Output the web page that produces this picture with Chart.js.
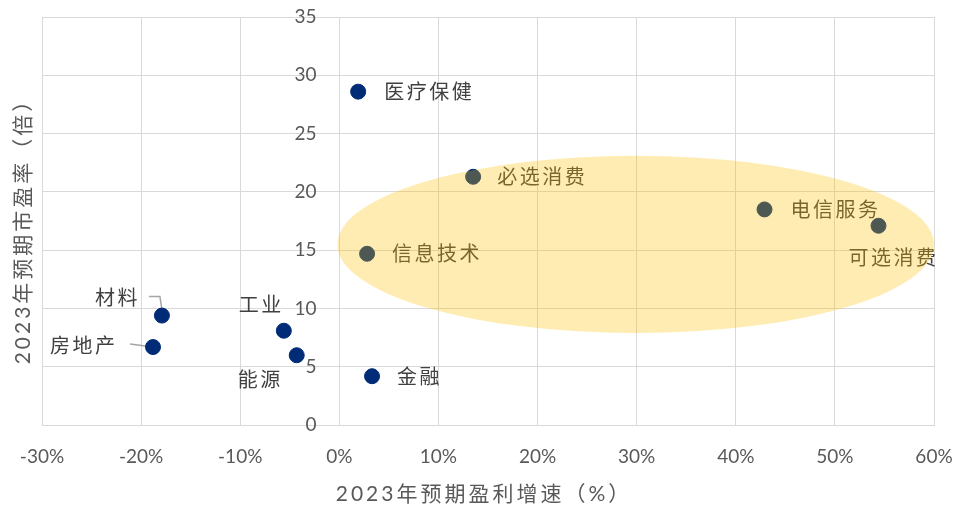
<!DOCTYPE html>
<html>
<head>
<meta charset="utf-8">
<script src="https://cdn.jsdelivr.net/npm/chart.js@4"></script>
<style>
  html, body { margin: 0; padding: 0; background: #fff; }
</style>
</head>
<body>
<canvas id="chart" width="955" height="510"></canvas>
<script>
// sectors with expected 2023 earnings growth (%) and forward P/E
const sectors = ["医疗保健", "必选消费", "电信服务", "可选消费", "信息技术", "材料", "房地产", "工业", "能源", "金融"];
const growth = [1.9, 13.5, 42.9, 54.4, 2.8, -17.9, -18.8, -5.6, -4.3, 3.3];
const pe = [28.6, 21.3, 18.5, 17.1, 14.7, 9.4, 6.7, 8.1, 6.0, 4.2];
const xTicks = [-30, -20, -10, 0, 10, 20, 30, 40, 50, 60];
const yTicks = [0, 5, 10, 15, 20, 25, 30, 35];
const xTitle = "2023年预期盈利增速（%）";
const yTitle = "2023年预期市盈率（倍）";
// highlighted zone (data units)
const zoneCenter = [29.9, 15.5];
const zoneRadius = [30.1, 7.6];

// where each label sits relative to its point (pixels)
const labelPos = {
  "医疗保健": { dx: 26, dy: 0 },
  "必选消费": { dx: 24, dy: 0 },
  "电信服务": { dx: 26, dy: 0 },
  "可选消费": { dx: -30, dy: 32 },
  "信息技术": { dx: 25, dy: 0 },
  "材料": { dx: -67, dy: -18, line: [[-13, -19], [-2, -19], [0, -6]] },
  "房地产": { dx: -103, dy: -2, line: [[-23, -3], [0, 0]] },
  "工业": { dx: -45, dy: -26 },
  "能源": { dx: -59, dy: 24 },
  "金融": { dx: 25, dy: 0 }
};

const points = growth.map((g, i) => ({ x: g, y: pe[i] }));

// let layout.padding alone decide the plot box
function noOverflow(s) {
  s.paddingLeft = 0; s.paddingRight = 0; s.paddingTop = 0; s.paddingBottom = 0;
}

const extras = {
  id: "extras",
  beforeDatasetsDraw(chart) {
    // leader lines under the points
    const ctx = chart.ctx;
    const meta = chart.getDatasetMeta(0);
    ctx.save();
    ctx.strokeStyle = "#a6a6a6";
    ctx.lineWidth = 1.5;
    sectors.forEach((name, i) => {
      const p = labelPos[name];
      if (!p.line) return;
      const el = meta.data[i];
      ctx.beginPath();
      p.line.forEach((o, k) => {
        if (k === 0) ctx.moveTo(el.x + o[0], el.y + o[1]);
        else ctx.lineTo(el.x + o[0], el.y + o[1]);
      });
      ctx.stroke();
    });
    ctx.restore();
  },
  afterDraw(chart) {
    const ctx = chart.ctx;
    const meta = chart.getDatasetMeta(0);
    const xs = chart.scales.x, ys = chart.scales.y;
    ctx.save();
    // point labels
    ctx.font = "20px 'Noto Sans CJK SC'";
    ctx.letterSpacing = "2.5px";
    ctx.fillStyle = "#404040";
    ctx.textBaseline = "middle";
    ctx.textAlign = "left";
    sectors.forEach((name, i) => {
      const el = meta.data[i];
      const p = labelPos[name];
      ctx.fillText(name, el.x + p.dx, el.y + p.dy);
    });

    // axis titles
    ctx.fillStyle = "#595959";
    ctx.font = "21px Lato, 'Noto Sans CJK SC'";
    ctx.letterSpacing = "3px";
    ctx.textAlign = "center";
    ctx.fillText(xTitle, 484, 494);
    ctx.translate(23, 226);
    ctx.rotate(-Math.PI / 2);
    ctx.fillText(yTitle, 0, 0);
    ctx.restore();

    // translucent highlight zone on top
    const cx = xs.getPixelForValue(zoneCenter[0]);
    const cy = ys.getPixelForValue(zoneCenter[1]);
    const rx = xs.getPixelForValue(zoneCenter[0] + zoneRadius[0]) - cx;
    const ry = cy - ys.getPixelForValue(zoneCenter[1] + zoneRadius[1]);
    ctx.save();
    ctx.fillStyle = "rgba(255, 192, 0, 0.3)";
    ctx.beginPath();
    ctx.ellipse(cx, cy, rx, ry, 0, 0, Math.PI * 2);
    ctx.fill();
    ctx.restore();
  }
};

new Chart(document.getElementById("chart"), {
  type: "scatter",
  data: {
    datasets: [{
      data: points,
      backgroundColor: "#002c77",
      borderColor: "#002c77",
      pointRadius: 7.5,
      pointHoverRadius: 7.5
    }]
  },
  options: {
    responsive: false,
    animation: false,
    layout: { padding: { left: 42, right: 21, top: 17, bottom: 22 } },
    plugins: { legend: { display: false }, tooltip: { enabled: false } },
    scales: {
      x: {
        type: "linear",
        position: "bottom",
        min: -30,
        max: 60,
        afterBuildTicks: (s) => { s.ticks = xTicks.map(v => ({ value: v })); },
        afterFit: noOverflow,
        ticks: {
          padding: 20,
          color: "#595959",
          font: { family: "Lato", size: 19 },
          callback: (v) => v + "%"
        },
        grid: { color: "#d9d9d9", lineWidth: 1, drawTicks: false },
        border: { color: "#d9d9d9" }
      },
      y: {
        type: "linear",
        // labels sit just left of the 0% line
        position: { x: -2.3 },
        min: 0,
        max: 35,
        afterBuildTicks: (s) => { s.ticks = yTicks.map(v => ({ value: v })); },
        afterFit: noOverflow,
        ticks: {
          color: "#595959",
          font: { family: "Lato", size: 19 }
        },
        grid: { color: "#d9d9d9", lineWidth: 1, drawTicks: false },
        border: { display: false }
      }
    }
  },
  plugins: [extras]
});
</script>
</body>
</html>
